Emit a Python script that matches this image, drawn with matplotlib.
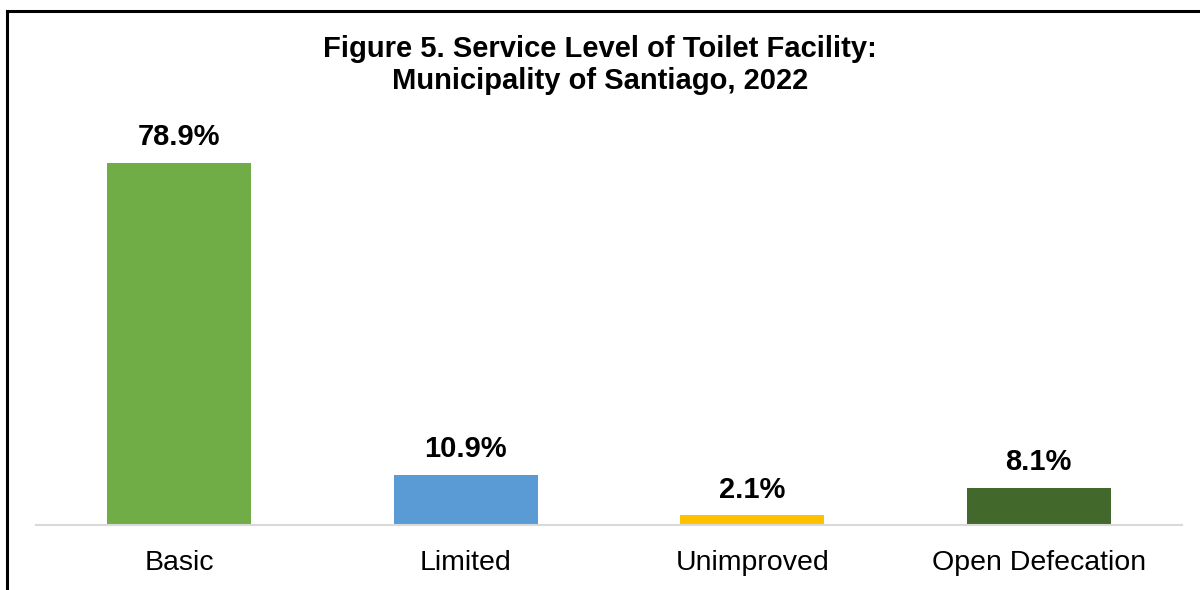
import matplotlib.pyplot as plt
from matplotlib.lines import Line2D

plt.rcParams['font.family'] = ['Liberation Sans', 'DejaVu Sans']

# toilet facility service levels, share of households (%)
categories = ['Basic', 'Limited', 'Unimproved', 'Open Defecation']
shares = [78.9, 10.9, 2.1, 8.1]
colors = ['#70AD47', '#5B9BD5', '#FFC000', '#43682B']

fig = plt.figure(figsize=(12, 5.9), dpi=100)
ax = fig.add_axes([0.03, 0.1102, 0.955, 0.70])

x = range(len(categories))
bars = ax.bar(x, shares, width=0.503, color=colors, zorder=2)
ax.set_xlim(-0.5, len(categories) - 0.5)
ax.set_ylim(0, 90)

# value labels above each bar
for bar, val in zip(bars, shares):
    ax.annotate(f'{val:.1f}%', (bar.get_x() + bar.get_width() / 2, val),
                xytext=(0, 8.5), textcoords='offset points',
                ha='center', va='bottom', fontsize=21, fontweight='bold')

ax.set_xticks(list(x))
ax.set_xticklabels(categories, fontsize=20.5)
ax.tick_params(axis='x', length=0, pad=18)
ax.set_yticks([])
for side in ['top', 'right', 'left']:
    ax.spines[side].set_visible(False)
ax.spines['bottom'].set_color('#D9D9D9')
ax.spines['bottom'].set_linewidth(1.5)

fig.text(0.5, 1 - 65 / 590, 'Figure 5. Service Level of Toilet Facility:\nMunicipality of Santiago, 2022',
         ha='center', va='center', fontsize=21, fontweight='bold', linespacing=1.15)

# frame lines on the left and top edges
fig.add_artist(Line2D([6.5 / 1200, 6.5 / 1200], [0, 1 - 10.5 / 590], color='black', lw=2.2,
                      transform=fig.transFigure))
fig.add_artist(Line2D([6.5 / 1200, 1], [1 - 10.5 / 590, 1 - 10.5 / 590], color='black', lw=2.2,
                      transform=fig.transFigure))

fig.savefig('out.png', dpi=100)
